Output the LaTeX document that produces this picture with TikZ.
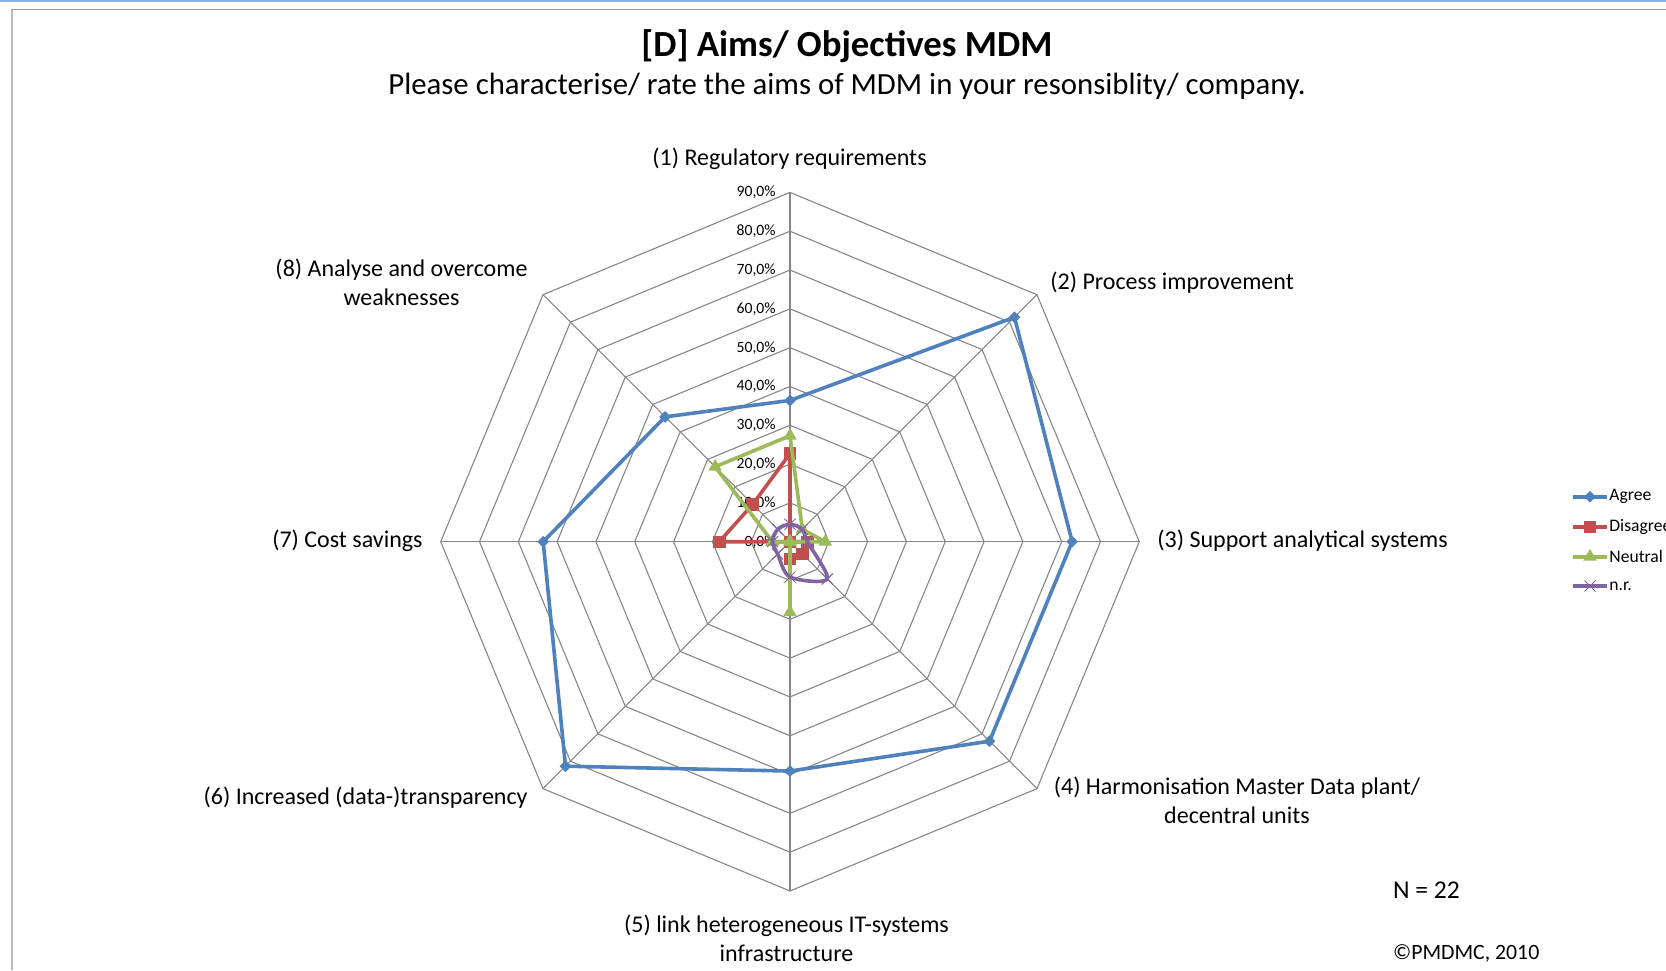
\documentclass[tikz,border=0pt]{standalone}
\usepackage{fontspec}
\setmainfont{Carlito}
\usetikzlibrary{shapes.geometric,shapes.misc}

\definecolor{agreeblue}{HTML}{4F81BD}
\definecolor{disred}{HTML}{C0504D}
\definecolor{neutgreen}{HTML}{9BBB59}
\definecolor{nrpurple}{HTML}{8064A2}
\definecolor{gridgray}{HTML}{868686}
\definecolor{topblue}{HTML}{8DB3E2}

\tikzset{
  gridline/.style={draw=gridgray, line width=0.55pt},
  axislabel/.style={font=\fontsize{12}{14.5}\selectfont, align=center, inner sep=0pt},
  ticklabel/.style={font=\fontsize{7.85}{9}\selectfont, anchor=east, inner sep=0pt},
  series/.style={line width=1.8pt, line join=round},
  mkdia/.style={diamond, fill=agreeblue, inner sep=0pt, minimum size=6pt},
  mksq/.style={rectangle, fill=disred, inner sep=0pt, minimum size=6.2pt},
  mktri/.style={regular polygon, regular polygon sides=3, fill=neutgreen, inner sep=0pt, minimum size=7.8pt},
  mkx/.style={cross out, draw=nrpurple, line width=0.5pt, inner sep=0pt, minimum size=5pt},
  legtext/.style={font=\fontsize{8.8}{10}\selectfont, anchor=west, inner sep=0pt},
  notetext/.style={anchor=west, inner sep=0pt},
}

\begin{document}
\begin{tikzpicture}[x=0.5pt,y=0.5pt]
\useasboundingbox (-790,-428.3) rectangle (876,541.7);
% frame
\draw[topblue, line width=1pt] (-790,540.9) -- (876,540.9);
\draw[gray!55, line width=1pt] (-778,-428.3) -- (-778,532.2);
\draw[gray!80, line width=0.8pt] (-778,532.2) -- (876,532.2);

% title
\node[font=\fontsize{18.4}{22}\selectfont\bfseries] (title) at (57,496) {[D] Aims/ Objectives MDM};
\node[font=\fontsize{15.4}{18}\selectfont] (subtitle) at (57,455.5) {Please characterise/ rate the aims of MDM in your resonsiblity/ company.};

% grid
\foreach \r in {1,...,9}
  \draw[gridline] (90:\r*38.81) \foreach \k in {1,...,7} {-- (90-45*\k:\r*38.81)} -- cycle;
\coordinate (ctr) at (0,0);
\foreach \k in {1,...,8}
  \draw[gridline] (ctr) -- (135-45*\k:349.3) coordinate (ax\k);
\foreach \r in {0,...,9} {
  \pgfmathtruncatemacro\pc{10*\r}
  \node[ticklabel] (tick\r) at (-14,\r*38.81) {\pc,0\%};
}

% axis labels
\node[axislabel] (lab1) at (-0.5,382.7) {(1) Regulatory requirements};
\node[axislabel, anchor=west] (lab2) at (260,258.7) {(2) Process improvement};
\node[axislabel, anchor=west] (lab3) at (367,0.7) {(3) Support analytical systems};
\node[axislabel] (lab4) at (447,-258.5) {(4) Harmonisation Master Data plant/\\decentral units};
\node[axislabel] (lab5) at (-3.5,-396.5) {(5) link heterogeneous IT-systems\\infrastructure};
\node[axislabel, anchor=east] (lab6) at (-262,-256.3) {(6) Increased (data-)transparency};
\node[axislabel, anchor=east] (lab7) at (-367,0.7) {(7) Cost savings};
\node[axislabel] (lab8) at (-388.5,259) {(8) Analyse and overcome\\weaknesses};

% data points
\foreach \v [count=\k] in {36.4,81.8,72.7,72.7,59.1,81.8,63.6,45.5}
  \coordinate (ag\k) at (135-45*\k:\v*3.881);
\foreach \v [count=\k] in {22.7,0,4.5,4.5,4.5,0,18.2,13.6}
  \coordinate (ds\k) at (135-45*\k:\v*3.881);
\foreach \v [count=\k] in {27.3,4.5,9.1,0,18.2,0,4.5,27.3}
  \coordinate (nt\k) at (135-45*\k:\v*3.881);
\foreach \v [count=\k] in {4.5,4.5,4.5,13.6,9.1,4.5,4.5,4.5}
  \coordinate (nr\k) at (135-45*\k:\v*3.881);

% series
\draw[series, agreeblue] (ag1) -- (ag2) -- (ag3) -- (ag4) -- (ag5) -- (ag6) -- (ag7) -- (ag8) -- cycle;
\foreach \k in {1,...,8} \node[mkdia] (mag\k) at (ag\k) {};
\draw[series, disred] (ds1) -- (ds2) -- (ds3) -- (ds4) -- (ds5) -- (ds6) -- (ds7) -- (ds8) -- cycle;
\foreach \k in {1,...,8} \node[mksq] (mds\k) at (ds\k) {};
\draw[series, neutgreen] (nt1) -- (nt2) -- (nt3) -- (nt4) -- (nt5) -- (nt6) -- (nt7) -- (nt8) -- cycle;
\foreach \k in {1,...,8} \node[mktri] (mnt\k) at (nt\k) {};
\draw[series, nrpurple] plot[smooth cycle, tension=0.5] coordinates {(nr1) (nr2) (nr3) (nr4) (nr5) (nr6) (nr7) (nr8)};
\foreach \k in {1,...,8} \node[mkx] (mnr\k) at (nr\k) {};

% legend
\coordinate (lg1a) at (783.3,45);   \coordinate (lg1b) at (816.7,45);
\coordinate (lg2a) at (783.3,15);   \coordinate (lg2b) at (816.7,15);
\coordinate (lg3a) at (783.3,-15);  \coordinate (lg3b) at (816.7,-15);
\coordinate (lg4a) at (783.3,-44.3); \coordinate (lg4b) at (816.7,-44.3);
\draw[series, agreeblue] (lg1a) -- (lg1b);
\node[mkdia] (lgm1) at (800,45) {};
\node[legtext] (lgt1) at (819,45) {Agree};
\draw[series, disred] (lg2a) -- (lg2b);
\node[mksq] (lgm2) at (800,15) {};
\node[legtext] (lgt2) at (819,15) {Disagree};
\draw[series, neutgreen] (lg3a) -- (lg3b);
\node[mktri] (lgm3) at (800,-15) {};
\node[legtext] (lgt3) at (819,-15) {Neutral};
\draw[series, nrpurple] (lg4a) -- (lg4b);
\node[mkx] (lgm4) at (800,-44.3) {};
\node[legtext] (lgt4) at (819,-44.3) {n.r.};

% notes
\node[notetext, font=\fontsize{12.8}{15}\selectfont] (nval) at (602.7,-348.3) {N = 22};
\node[notetext, font=\fontsize{10.9}{13}\selectfont] (copy) at (602.7,-412) {©PMDMC, 2010};
\end{tikzpicture}
\end{document}
